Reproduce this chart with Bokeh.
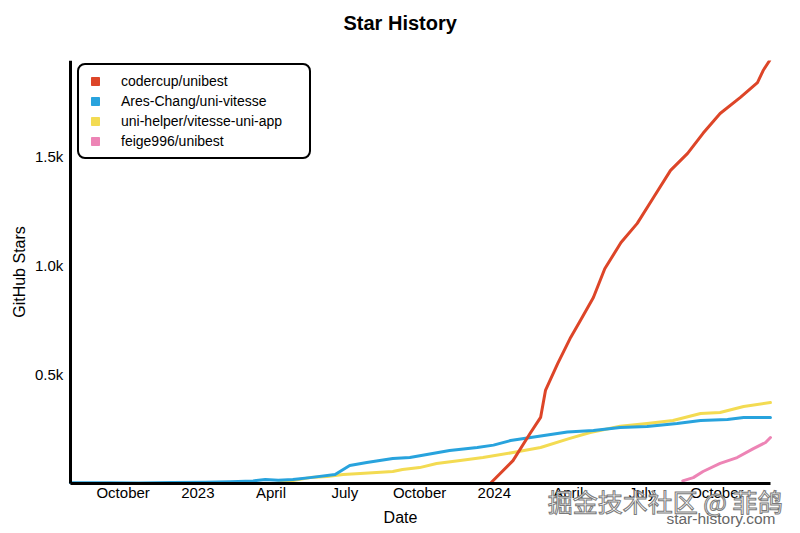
import numpy as np
from bokeh.plotting import figure
from bokeh.models import (Range1d, FixedTicker, Legend, LegendItem, Title, Label)
from bokeh.embed import file_html
from bokeh.resources import INLINE

# ---------------- data ----------------
series_names = ["codercup/unibest", "Ares-Chang/uni-vitesse",
                "uni-helper/vitesse-uni-app", "feige996/unibest"]
series_colors = ["#dd4528", "#28a3dd", "#f3db52", "#ed84b5"]

red_dates = ["2023-12-27", "2024-01-24", "2024-02-14", "2024-02-27", "2024-03-04",
             "2024-03-19", "2024-04-04", "2024-04-16", "2024-05-02", "2024-05-16",
             "2024-06-05", "2024-06-25", "2024-07-15", "2024-08-05", "2024-08-26",
             "2024-09-14", "2024-10-05", "2024-10-30", "2024-11-20", "2024-11-27",
             "2024-12-05"]
red_stars = [0, 105, 229, 303, 427, 550, 670, 748, 853, 985,
             1105, 1193, 1312, 1436, 1514, 1606, 1697, 1771, 1839, 1894, 1940]

blue_dates = ["2022-07-28", "2022-09-15", "2022-10-20", "2022-12-01", "2023-01-10",
              "2023-02-10", "2023-03-10", "2023-03-25", "2023-04-10", "2023-04-28",
              "2023-05-19", "2023-06-19", "2023-06-27", "2023-07-07", "2023-07-28",
              "2023-08-29", "2023-09-19", "2023-10-17", "2023-11-07", "2023-12-11",
              "2023-12-31", "2024-01-21", "2024-02-23", "2024-03-31", "2024-05-02",
              "2024-06-04", "2024-07-07", "2024-08-13", "2024-09-11", "2024-10-14",
              "2024-11-03", "2024-12-06"]
blue_stars = [3, 4, 2, 5, 6, 8, 12, 18, 15, 18, 27, 41, 60, 83, 96, 115, 119, 138,
              151, 165, 176, 197, 216, 236, 243, 257, 261, 275, 289, 294, 303, 303]

yellow_dates = ["2023-04-06", "2023-04-28", "2023-05-19", "2023-06-09", "2023-06-29",
                "2023-07-20", "2023-08-09", "2023-08-29", "2023-09-10", "2023-10-01",
                "2023-10-22", "2023-11-20", "2023-12-18", "2024-01-24", "2024-02-27",
                "2024-04-02", "2024-04-28", "2024-06-04", "2024-07-07", "2024-08-08",
                "2024-09-11", "2024-10-05", "2024-11-03", "2024-12-06"]
yellow_stars = [0, 14, 27, 32, 41, 46, 50, 55, 64, 73, 92, 106, 119, 142, 165,
                206, 234, 263, 275, 289, 321, 326, 353, 371]

pink_dates = ["2024-08-20", "2024-09-02", "2024-09-14", "2024-10-05", "2024-10-26",
              "2024-11-15", "2024-11-30", "2024-12-06"]
pink_stars = [12, 27, 55, 92, 119, 160, 188, 211]

x_tick_dates = ["2022-10-01", "2023-01-01", "2023-04-01", "2023-07-01", "2023-10-01",
                "2024-01-01", "2024-04-01", "2024-07-01", "2024-10-01"]
x_tick_labels = ["October", "2023", "April", "July", "October",
                 "2024", "April", "July", "October"]
y_tick_values = [500, 1000, 1500]
y_tick_labels = ["0.5k", "1.0k", "1.5k"]

# axis extents (what the axes cover) and the view ranges (wider, so that the
# axis texts and the watermark stay inside the drawing area)
x_start, x_end = "2022-07-28", "2024-12-06"
y_start, y_end = 0, 1940
x_view_start, x_view_end = "2022-05-03", "2025-01-12"
y_view_start = -229.3

title_text = "Star History"
x_label_text = "Date"
y_label_text = "GitHub Stars"
watermark_text = "掘金技术社区 @ 菲鸽"
site_text = "star-history.com"


def to_ms(dates):
    arr = np.array(dates, dtype="datetime64[ms]")
    return (arr - np.datetime64("1970-01-01", "ms")).astype(np.int64).tolist()


FONT = "Liberation Sans"

p = figure(width=800, height=533, x_axis_type="datetime",
           output_backend="svg", toolbar_location=None,
           min_border_left=0, min_border_right=0,
           min_border_top=60, min_border_bottom=0)
p.x_range = Range1d(to_ms([x_view_start])[0], to_ms([x_view_end])[0])
p.y_range = Range1d(y_view_start, y_end)

# spacer between the frame and the title
p.add_layout(Title(text=" ", text_font_size="1px", standoff=24), "above")

p.title.text = title_text
p.title.text_font = FONT
p.title.text_font_size = "20px"
p.title.text_font_style = "bold"
p.title.text_color = "black"
p.title.align = "left"
p.title.offset = 343
p.title.standoff = 0

p.outline_line_color = None
p.xgrid.visible = False
p.ygrid.visible = False
p.background_fill_color = "white"
p.border_fill_color = "white"

xt = to_ms(x_tick_dates)
p.xaxis.ticker = FixedTicker(ticks=xt)
p.xaxis.major_label_overrides = {int(t): lab for t, lab in zip(xt, x_tick_labels)}
p.xaxis.fixed_location = y_start
p.xaxis.bounds = (to_ms([x_start])[0], to_ms([x_end])[0])
p.yaxis.ticker = FixedTicker(ticks=y_tick_values)
p.yaxis.major_label_overrides = {v: lab for v, lab in zip(y_tick_values, y_tick_labels)}
p.yaxis.fixed_location = to_ms([x_start])[0]
p.yaxis.bounds = (y_start, y_end)

for ax in (p.xaxis, p.yaxis):
    ax.axis_line_width = 3
    ax.axis_line_color = "black"
    ax.major_tick_line_color = None
    ax.minor_tick_line_color = None
    ax.major_tick_out = 0
    ax.major_tick_in = 0
    ax.major_label_text_font = FONT
    ax.major_label_text_font_size = "15px"
    ax.major_label_text_color = "black"
    ax.axis_label_text_font = FONT
    ax.axis_label_text_font_size = "16px"
    ax.axis_label_text_font_style = "normal"
    ax.axis_label_text_color = "black"

p.xaxis.major_label_standoff = 0
p.yaxis.axis_label = y_label_text
p.yaxis.major_label_standoff = 7
p.yaxis.axis_label_standoff = 4

all_dates = [red_dates, blue_dates, yellow_dates, pink_dates]
all_stars = [red_stars, blue_stars, yellow_stars, pink_stars]
# draw in order so red is on top
for i in [3, 2, 1, 0]:
    p.line(to_ms(all_dates[i]), all_stars[i], line_color=series_colors[i],
           line_width=3, line_join="round", line_cap="round")

items = []
for name, col in zip(series_names, series_colors):
    # legend-only marker (NaN position -> nothing drawn in the plot area)
    r = p.scatter(x=[float("nan")], y=[float("nan")], marker="square",
                  size=8, fill_color=col, line_color=col)
    items.append(LegendItem(label=name, renderers=[r]))

legend = Legend(items=items, location=(77, 374))
legend.border_line_color = "black"
legend.border_line_width = 2
legend.border_line_alpha = 1
legend.background_fill_color = "white"
legend.background_fill_alpha = 1
legend.label_text_font = FONT
legend.label_text_font_size = "14px"
legend.label_text_color = "black"
legend.glyph_width = 20
legend.glyph_height = 20
legend.label_height = 20
legend.label_width = 182
legend.label_standoff = 16
legend.spacing = 0
legend.padding = 6
legend.margin = 0
try:
    legend.border_radius = 8
except Exception:
    pass
p.add_layout(legend)

# x-axis title, placed like the reference (slightly left of the axis centre)
p.add_layout(Label(x=400, y=16, x_units="screen", y_units="screen",
                   text=x_label_text, text_font=FONT, text_font_size="16px",
                   text_color="black", text_align="center",
                   text_baseline="middle"))

wm = Label(x=782, y=33, x_units="screen", y_units="screen",
           text=watermark_text, text_font="Noto Sans CJK SC",
           text_font_size="25px", text_color="white",
           text_align="right", text_baseline="middle")
try:
    wm.text_outline_color = "#7a7a7a"
except Exception:
    wm.text_color = "#9a9a9a"
p.add_layout(wm)

site = Label(x=775, y=15, x_units="screen", y_units="screen",
             text=site_text, text_font=FONT, text_font_size="15.5px",
             text_color="#666666", text_align="right", text_baseline="middle")
p.add_layout(site)

open("out.html", "w").write(file_html(p, INLINE))
